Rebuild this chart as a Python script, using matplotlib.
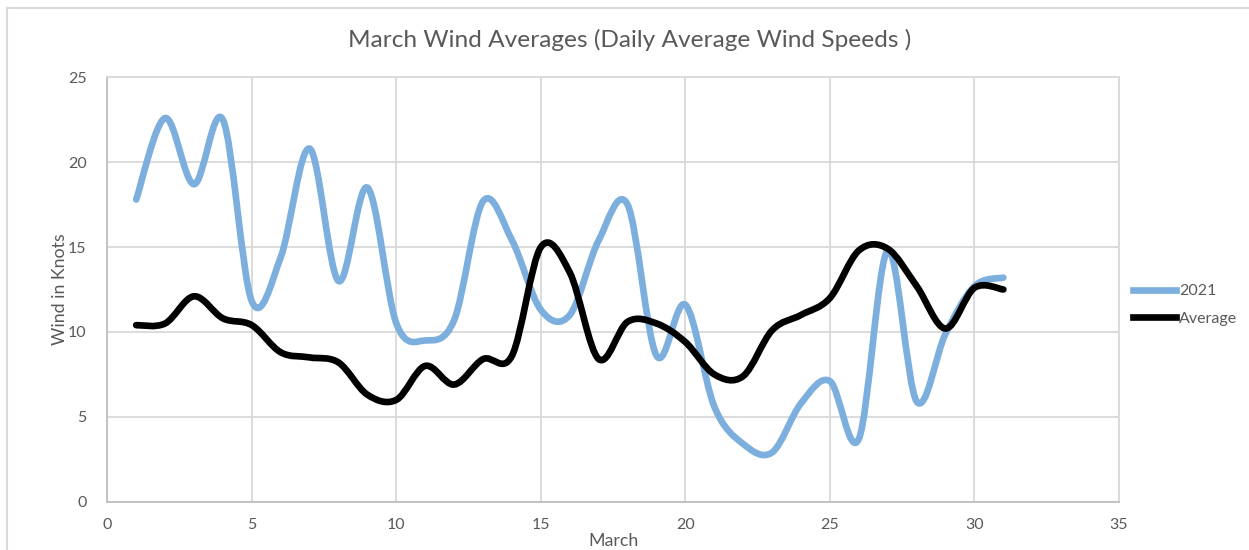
import numpy as np
import matplotlib
matplotlib.use("Agg")
import matplotlib.pyplot as plt
from matplotlib.path import Path
from matplotlib.patches import PathPatch, Rectangle
from matplotlib.lines import Line2D

plt.rcParams['font.family'] = ['Lato', 'DejaVu Sans']

# daily values (March 1..31)
days = list(range(1, 32))
wind_2021 = [17.8, 22.6, 18.7, 22.5, 11.8, 14.4, 20.8, 13.0, 18.5, 10.5,
             9.5, 10.7, 17.7, 15.4, 11.3, 11.0, 15.4, 17.5, 8.6, 11.6,
             5.6, 3.4, 2.9, 5.8, 7.1, 3.7, 14.8, 5.9, 9.9, 12.7, 13.2]
wind_avg = [10.4, 10.5, 12.1, 10.8, 10.4, 8.8, 8.5, 8.2, 6.3, 6.0,
            8.0, 6.9, 8.4, 8.6, 15.0, 13.5, 8.4, 10.6, 10.5, 9.4,
            7.5, 7.4, 10.1, 11.0, 12.0, 14.8, 14.9, 12.7, 10.2, 12.6, 12.5]

series_names = ['2021', 'Average']
series_colors = ['#7cafdd', '#000000']

grey = '#d9d9d9'
txt = '#595959'


def smooth_path(xs, ys):
    # excel style smoothed line: catmull-rom as cubic bezier pieces
    p = np.column_stack([xs, ys]).astype(float)
    ext = np.vstack([p[0], p, p[-1]])
    verts = [p[0]]
    codes = [Path.MOVETO]
    for i in range(len(p) - 1):
        a, b, c, d = ext[i], ext[i + 1], ext[i + 2], ext[i + 3]
        verts += [b + (c - a) / 6.0, c - (d - b) / 6.0, c]
        codes += [Path.CURVE4] * 3
    return Path(verts, codes)


fig = plt.figure(figsize=(12.49, 5.5), dpi=100)
ax = fig.add_axes([107.3 / 1249, 1 - 501.7 / 550, (1119 - 107.3) / 1249, (501.7 - 77.3) / 550])

for vals, col in zip([wind_2021, wind_avg], series_colors):
    ax.add_patch(PathPatch(smooth_path(days, vals), facecolor='none', edgecolor=col,
                           lw=4.8, capstyle='round', joinstyle='round', zorder=3))

ax.set_xlim(0, 35)
ax.set_ylim(0, 25)
ax.set_xticks(range(0, 36, 5))
ax.set_yticks(range(0, 26, 5))
ax.grid(True, color=grey, lw=1.3)
ax.set_axisbelow(True)
for s in ['top', 'right']:
    ax.spines[s].set_color(grey)
    ax.spines[s].set_linewidth(1.3)
for s in ['bottom', 'left']:
    ax.spines[s].set_color('#bfbfbf')
    ax.spines[s].set_linewidth(1.3)
ax.tick_params(length=0, labelsize=11.5, labelcolor=txt)
ax.tick_params(axis='x', pad=12)
ax.tick_params(axis='y', pad=15)

ax.set_xlabel('March', fontsize=12.8, color=txt, labelpad=0.5)
ax.set_ylabel('Wind in Knots', fontsize=12.8, color=txt, labelpad=0)

fig.text(0.504, 1 - 40 / 550, 'March Wind Averages (Daily Average Wind Speeds )',
         ha='center', va='center', fontsize=17.6, color=txt)

handles = [Line2D([], [], color=c, lw=4.8) for c in series_colors]
fig.legend(handles, series_names, loc='center left',
           bbox_to_anchor=(1127 / 1249, 1 - 305 / 550), frameon=False,
           fontsize=11.5, labelcolor=txt, handlelength=2.65, handletextpad=0.2,
           labelspacing=0.85, borderaxespad=0)

# chart area border (only top and left visible in the crop)
fig.patches.append(Rectangle((7 / 1249, -0.5), 1.5, 1.5 - 7.5 / 550,
                             transform=fig.transFigure, fill=False,
                             edgecolor=grey, lw=1.5))

fig.savefig('out.png', dpi=100)
